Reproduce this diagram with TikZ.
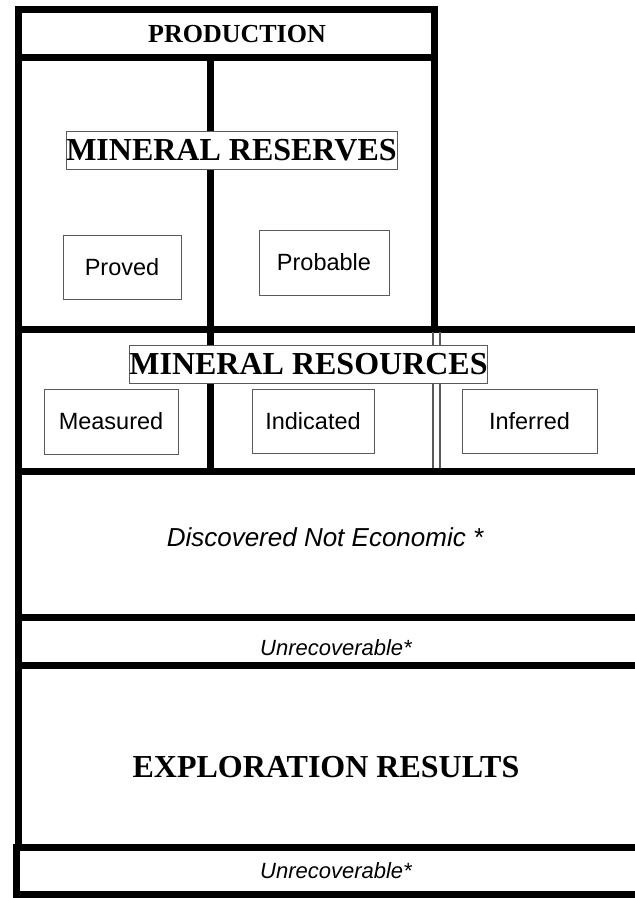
\documentclass[tikz,border=0pt]{standalone}
\usepackage{fontspec}
\setmainfont{Liberation Serif}
\setsansfont{Liberation Sans}
\definecolor{ink}{HTML}{000000}
\definecolor{rule}{HTML}{5A5A5A}
\newcommand{\hdfont}{\fontsize{32}{36}\selectfont\bfseries}
\newcommand{\prodfont}{\fontsize{26}{30}\selectfont\bfseries}
\newcommand{\catfont}{\sffamily\fontsize{23.5}{26}\selectfont}
\newcommand{\notefont}{\sffamily\itshape\fontsize{26}{30}\selectfont}
\newcommand{\lossfont}{\sffamily\itshape\fontsize{22}{26}\selectfont}
\tikzset{
 every node/.append style={text=ink,align=center},
 frame/.style={draw=ink,line width=7pt},
 pair/.style={draw=rule,line width=1.2pt},
 banner/.style={draw=rule,fill=white,line width=1pt,inner sep=0pt,font=\hdfont,minimum height=38pt},
 cat/.style={draw=rule,fill=white,line width=1pt,inner sep=0pt,font=\catfont},
 note/.style={inner sep=0pt},
}

\begin{document}
\begin{tikzpicture}[x=1pt,y=-1pt]

\useasboundingbox (0,0) rectangle (635,898);
\begin{scope}
\clip (0,0) rectangle (635,898);
\draw[frame] (18,847) -- (18,9) -- (434,9) -- (434,329);
\draw[frame] (18,57) -- (434,57); \draw[frame] (210,57) -- (210,471);
\draw[frame] (18,329) -- (640,329); \draw[frame] (18,471) -- (640,471);
\draw[frame] (18,617) -- (640,617); \draw[frame] (18,665) -- (640,665);
\draw[frame] (640,847) -- (16,847) -- (16,894) -- (640,894);
\draw[pair] (433,332) -- (433,468); \draw[pair] (440,332) -- (440,468);
\end{scope}
\node[note,font=\prodfont] (production) at (237,34) {PRODUCTION};
\node[banner,minimum width=331pt] (reserves) at (231.5,150) {MINERAL RESERVES};
\node[cat,minimum width=118pt,minimum height=64pt] (proved) at (122,267) {Proved};
\node[cat,minimum width=130pt,minimum height=65pt] (probable) at (324,262.5) {Probable};
\node[banner,minimum width=357pt] (resources) at (308.5,364) {MINERAL RESOURCES};
\node[cat,minimum width=134pt,minimum height=65pt] (measured) at (111,421.5) {Measured};
\node[cat,minimum width=122pt,minimum height=64pt] (indicated) at (313,421) {Indicated};
\node[cat,minimum width=135pt,minimum height=64pt] (inferred) at (529.5,421) {Inferred};
\node[note,font=\notefont] (uneconomic) at (325,537) {Discovered Not Economic *};
\node[note,font=\lossfont] (lossupper) at (336,648) {Unrecoverable*};
\node[note,font=\hdfont] (exploration) at (326,767) {EXPLORATION RESULTS};
\node[note,font=\lossfont] (losslower) at (336,871) {Unrecoverable*};

\end{tikzpicture}
\end{document}
